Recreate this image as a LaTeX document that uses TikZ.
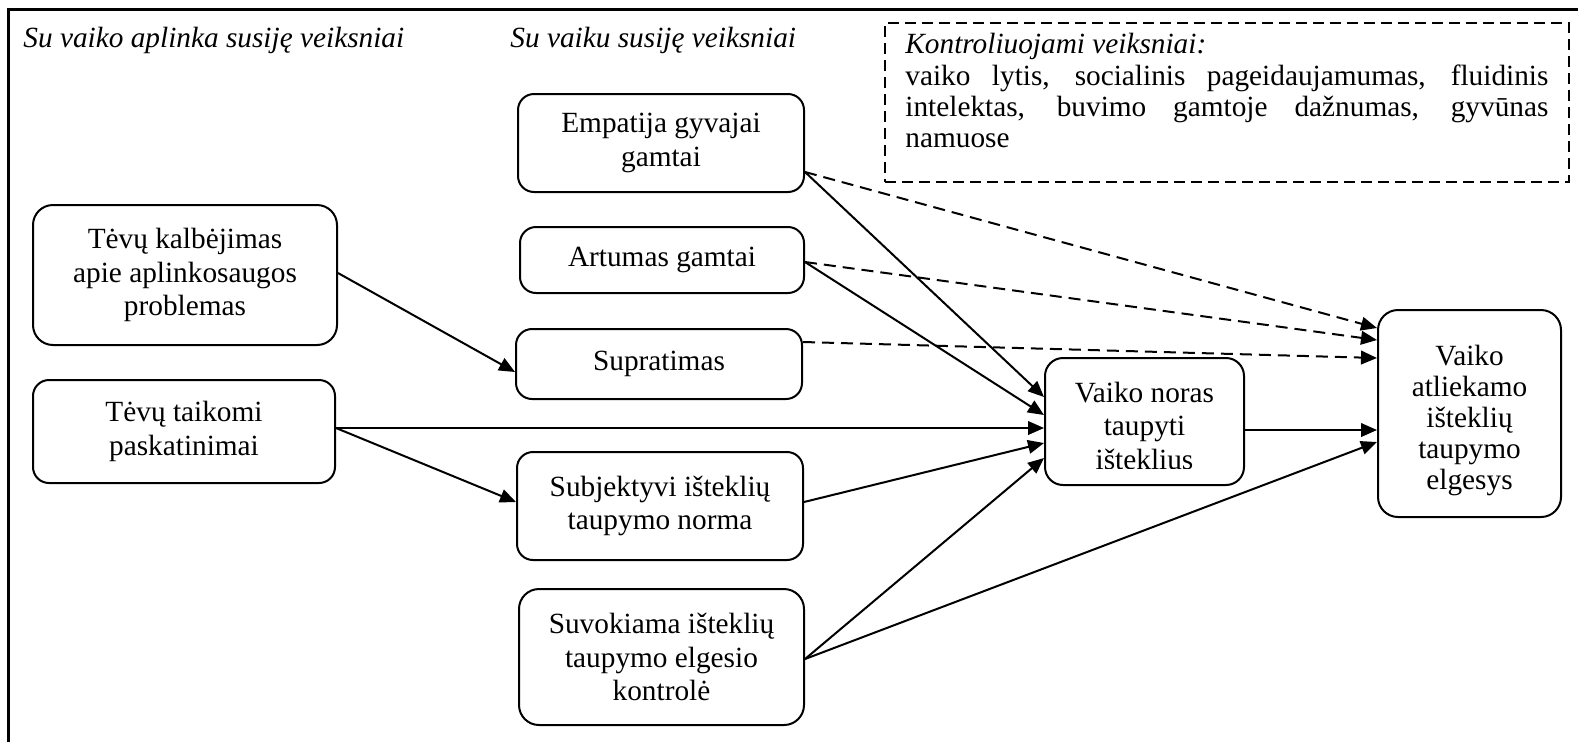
\documentclass[tikz,border=0pt]{standalone}
\usepackage{fontspec}
\setmainfont{Liberation Serif}
\usetikzlibrary{arrows.meta,calc}
\begin{document}
\begin{tikzpicture}[x=0.5pt,y=-0.5pt,
  box/.style={draw, line width=1pt, rounded corners=8pt, inner sep=0pt, align=center,
    font=\fontsize{14.65}{16.75}\selectfont},
  bigbox/.style={box, rounded corners=10pt},
  txt/.style={inner sep=0pt, align=center, font=\fontsize{14.65}{16.75}\selectfont},
  arr/.style={line width=1pt, -{Triangle[length=8pt,width=6.8pt]}},
  darr/.style={arr, dash pattern=on 6pt off 3.5pt},
  hdr/.style={inner sep=0pt, anchor=base west, font=\fontsize{14.65}{16.75}\selectfont\itshape},
]
\useasboundingbox (0,0) rectangle (1578,741);
\fill[white] (0,0) rectangle (1578,741);
% outer frame (top and left)
\draw[line width=1.5pt] (8.5,750) -- (8.5,9) -- (1590,9);

% headers
\node[hdr] (h1) at (23,47) {Su vaiko aplinka susiję veiksniai};
\node[hdr] (h2) at (510,47) {Su vaiku susiję veiksniai};

% control box
\node[draw, line width=1pt, dash pattern=on 5.5pt off 3pt, inner sep=0pt,
  minimum width=342pt, minimum height=79.5pt] (ctrl) at (1227,102.5) {};
\node[inner sep=0pt, anchor=north west, align=left,
  font=\fontsize{14.65}{15.65}\selectfont] (ctrlt) at (905,33)
  {\textit{Kontroliuojami veiksniai:}\\
   \makebox[321.5pt][s]{vaiko lytis, socialinis pageidaujamumas, fluidinis}\\
   \makebox[321.5pt][s]{intelektas, buvimo gamtoje dažnumas, gyvūnas}\\
   namuose};

% boxes
\node[bigbox, minimum width=152pt, minimum height=70pt] (tk) at (185,275)
  {Tėvų kalbėjimas\\apie aplinkosaugos\\problemas};
\node[box, minimum width=151pt, minimum height=51.5pt] (tt) at (184,431.5)
  {Tėvų taikomi\\paskatinimai};
\node[box, minimum width=143pt, minimum height=49pt] (emp) at (661,143)
  {Empatija gyvajai\\gamtai};
\node[box, minimum width=142pt, minimum height=33pt] (art) at (662,260)
  {Artumas gamtai};
\node[box, minimum width=143pt, minimum height=35pt] (sup) at (659,364)
  {Supratimas};
\node[box, minimum width=143pt, minimum height=54pt] (sub) at (660,506)
  {Subjektyvi išteklių\\taupymo norma};
\node[bigbox, minimum width=142.5pt, minimum height=68pt] (suv) at (661.5,657)
  {Suvokiama išteklių\\taupymo elgesio\\kontrolė};
\node[box, rounded corners=9pt, minimum width=99.5pt, minimum height=63.5pt] (nv) at (1144.5,421.5) {};
\begin{scope}
  \clip (1045,358) rectangle (1244,468.6);
  \node[txt] (nvt) at (1144.5,425.6) {Vaiko noras\\taupyti\\išteklius};
\end{scope}
\node[bigbox, minimum width=91.5pt, minimum height=103.5pt] (va) at (1469.5,413.5) {};
\node[txt, font=\fontsize{14.65}{15.5}\selectfont] (vat) at (1469.5,420.3)
  {Vaiko\\atliekamo\\išteklių\\taupymo\\elgesys};

% connectors
\draw[arr] ($(tk.east)+(0,-2)$) -- ($(sup.west)+(0,8)$);
\draw[arr] ($(tt.east)+(0,-3.5)$) -- ($(nv.west)+(0,6.5)$);
\draw[arr] ($(tt.east)+(0,-3.5)$) -- ($(sub.west)+(0,-4)$);
\draw[arr] ($(emp.east)+(0,29)$) -- ($(nv.west)+(0,-24.5)$);
\draw[darr] ($(emp.east)+(0,29)$) -- ($(va.west)+(0,-85.5)$);
\draw[arr] ($(art.east)+(0,2)$) -- ($(nv.west)+(0,-6.5)$);
\draw[darr] ($(art.east)+(0,2)$) -- ($(va.west)+(0,-73.5)$);
\draw[darr] ($(sup.east)+(0,-22)$) -- ($(va.west)+(0,-55.5)$);
\draw[arr] ($(sub.east)+(0,-4)$) -- ($(nv.west)+(0,21.5)$);
\draw[arr] ($(suv.east)+(0,2)$) -- ($(nv.west)+(0,36.5)$);
\draw[arr] ($(suv.east)+(0,2)$) -- ($(va.west)+(0,28.5)$);
\draw[arr] ($(nv.east)+(0,8.5)$) -- ($(va.west)+(0,16.5)$);
\end{tikzpicture}
\end{document}
